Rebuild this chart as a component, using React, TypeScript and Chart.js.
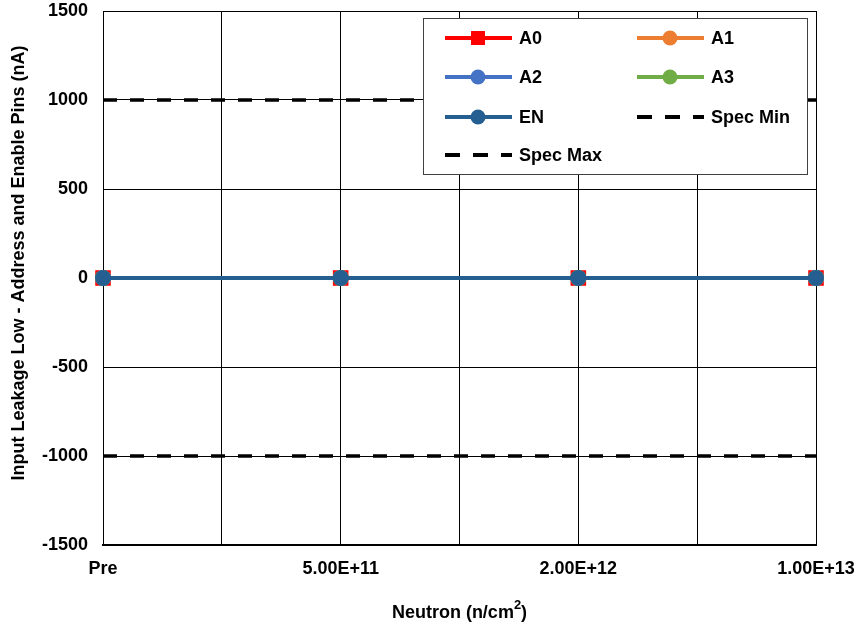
import React, { useEffect, useRef } from 'react';
import { Chart, registerables } from 'chart.js';

Chart.register(...registerables);

const xLabels = ['Pre', '5.00E+11', '2.00E+12', '1.00E+13'];
const xPositions = [0, 1, 2, 3];
const a0 = [0, 0, 0, 0];
const a1 = [0, 0, 0, 0];
const a2 = [0, 0, 0, 0];
const a3 = [0, 0, 0, 0];
const en = [0, 0, 0, 0];
const specMin = [-1000, -1000, -1000, -1000];
const specMax = [1000, 1000, 1000, 1000];

const yTitle = 'Input Leakage Low - Address and Enable Pins (nA)';
const FONT = '"Liberation Sans", Arial, sans-serif';
const FS = 18;

const toPts = (arr: number[]) => arr.map((y, i) => ({ x: xPositions[i], y }));

type LegendItem = { label: string; color: string; style: string; dash: boolean };

const legendItems: LegendItem[] = [
  { label: 'A0', color: '#FF0000', style: 'rect', dash: false },
  { label: 'A1', color: '#ED7D31', style: 'circle', dash: false },
  { label: 'A2', color: '#4472C4', style: 'circle', dash: false },
  { label: 'A3', color: '#70AD47', style: 'circle', dash: false },
  { label: 'EN', color: '#255E91', style: 'circle', dash: false },
  { label: 'Spec Min', color: '#000000', style: 'none', dash: true },
  { label: 'Spec Max', color: '#000000', style: 'none', dash: true },
];

const overlayPlugin = {
  id: 'overlay',
  afterDraw(chart: any) {
    const ctx = chart.ctx as CanvasRenderingContext2D;
    const area = chart.chartArea;
    ctx.save();
    // Legend box
    const bx = 423, by = 18, bw = 384, bh = 156;
    ctx.fillStyle = '#ffffff';
    ctx.fillRect(bx, by, bw, bh);
    ctx.strokeStyle = '#404040';
    ctx.lineWidth = 1;
    ctx.strokeRect(bx + 0.5, by + 0.5, bw, bh);
    const cols = [445, 637];
    const rows = [38, 77, 117, 155];
    legendItems.forEach((it, i) => {
      const cx = cols[i % 2];
      const cy = rows[Math.floor(i / 2)];
      ctx.strokeStyle = it.color;
      ctx.lineWidth = 4;
      ctx.setLineDash(it.dash ? [15, 13] : []);
      ctx.beginPath();
      ctx.moveTo(cx, cy);
      ctx.lineTo(cx + 67, cy);
      ctx.stroke();
      ctx.setLineDash([]);
      ctx.fillStyle = it.color;
      const mx = cx + 33;
      if (it.style === 'rect') {
        ctx.fillRect(mx - 7, cy - 7, 14, 14);
      } else if (it.style === 'circle') {
        ctx.beginPath();
        ctx.arc(mx, cy, 7.5, 0, Math.PI * 2);
        ctx.fill();
      }
      ctx.fillStyle = '#000';
      ctx.font = `bold ${FS}px ${FONT}`;
      ctx.textAlign = 'left';
      ctx.textBaseline = 'middle';
      ctx.fillText(it.label, cx + 74, cy + 1);
    });
    // Y title
    ctx.save();
    ctx.translate(19, 263);
    ctx.rotate(-Math.PI / 2);
    ctx.font = `bold ${FS}px ${FONT}`;
    ctx.textAlign = 'center';
    ctx.textBaseline = 'middle';
    ctx.fillStyle = '#000';
    ctx.fillText(yTitle, 0, 0);
    ctx.restore();
    // X title with superscript
    const main = 'Neutron (n/cm';
    const sup = '2';
    const end = ')';
    ctx.font = `bold ${FS}px ${FONT}`;
    const w1 = ctx.measureText(main).width;
    const w3 = ctx.measureText(end).width;
    ctx.font = `bold ${Math.round(FS * 0.7)}px ${FONT}`;
    const w2 = ctx.measureText(sup).width;
    const total = w1 + w2 + w3;
    const xc = (area.left + area.right) / 2;
    let x = xc - total / 2;
    const y = 613;
    ctx.textAlign = 'left';
    ctx.textBaseline = 'middle';
    ctx.font = `bold ${FS}px ${FONT}`;
    ctx.fillText(main, x, y);
    x += w1;
    ctx.font = `bold ${Math.round(FS * 0.7)}px ${FONT}`;
    ctx.fillText(sup, x, y - 8);
    x += w2;
    ctx.font = `bold ${FS}px ${FONT}`;
    ctx.fillText(end, x, y);
    ctx.restore();
  },
};

export default function App() {
  const ref = useRef<HTMLCanvasElement | null>(null);
  useEffect(() => {
    if (!ref.current) return;
    const mk = (label: string, data: number[], color: string, style: string, order: number, radius: number) => ({
      label,
      data: toPts(data),
      borderColor: color,
      backgroundColor: color,
      borderWidth: 4,
      pointStyle: style,
      pointRadius: radius,
      pointBorderWidth: 0,
      pointBackgroundColor: color,
      clip: false,
      order,
    });
    const chart = new Chart(ref.current, {
      type: 'line',
      data: {
        datasets: [
          mk('A0', a0, '#FF0000', 'rect', 4, 11),
          mk('A1', a1, '#ED7D31', 'circle', 3, 8),
          mk('A2', a2, '#4472C4', 'circle', 2, 8),
          mk('A3', a3, '#70AD47', 'circle', 1, 8),
          mk('EN', en, '#255E91', 'circle', 0, 8),
          {
            label: 'Spec Min',
            data: toPts(specMin),
            borderColor: '#000',
            borderWidth: 3.5,
            borderDash: [14, 13],
            pointRadius: 0,
            order: 5,
          },
          {
            label: 'Spec Max',
            data: toPts(specMax),
            borderColor: '#000',
            borderWidth: 3.5,
            borderDash: [14, 13],
            pointRadius: 0,
            order: 6,
          },
        ] as any,
      },
      options: {
        animation: false,
        responsive: false,
        maintainAspectRatio: false,
        layout: { padding: { top: 11, right: 43, left: 0, bottom: 0 } },
        plugins: { legend: { display: false }, tooltip: { enabled: false } },
        scales: {
          x: {
            type: 'linear',
            min: 0,
            max: 3,
            afterFit: (s: any) => {
              s.height = 85;
              s.paddingLeft = 0;
              s.paddingRight = 0;
            },
            afterBuildTicks: (s: any) => {
              s.ticks = [0, 0.5, 1, 1.5, 2, 2.5, 3].map((v) => ({ value: v }));
            },
            ticks: {
              autoSkip: false,
              maxRotation: 0,
              padding: 13,
              color: '#000',
              font: { family: FONT, size: FS, weight: 'bold' },
              callback: (v: any) => (Number.isInteger(v) ? xLabels[v] : ''),
            },
            grid: { color: '#000', lineWidth: 1, drawTicks: false },
            border: { color: '#000', width: 2 },
          },
          y: {
            min: -1500,
            max: 1500,
            afterFit: (s: any) => {
              s.width = 103;
              s.paddingTop = 0;
              s.paddingBottom = 0;
            },
            ticks: {
              stepSize: 500,
              padding: 15,
              color: '#000',
              font: { family: FONT, size: FS, weight: 'bold' },
              callback: (v: any) => String(v),
            },
            grid: { color: '#000', lineWidth: 1, drawTicks: false },
            border: { color: '#000', width: 1 },
          },
        },
      },
      plugins: [overlayPlugin],
    });
    return () => chart.destroy();
  }, []);
  return (
    <canvas
      ref={ref}
      width={859}
      height={630}
      style={{ position: 'absolute', left: 0, top: 0, width: 859, height: 630 }}
    />
  );
}
